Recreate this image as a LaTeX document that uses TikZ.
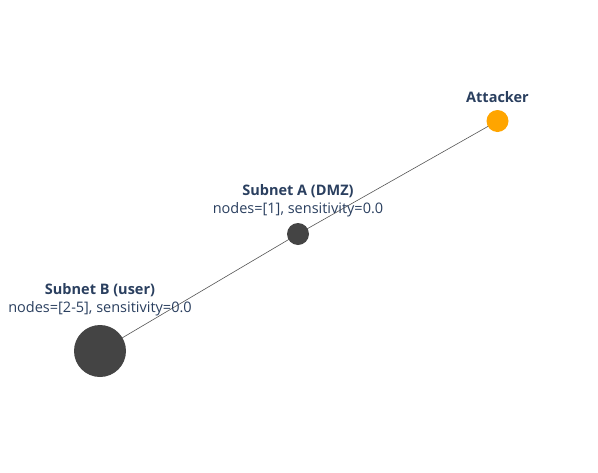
\documentclass[tikz,border=0pt]{standalone}
\usepackage{fontspec}
\setmainfont{Open Sans}
\usepackage{xcolor}
\usetikzlibrary{positioning,backgrounds}
\definecolor{labelblue}{HTML}{2A3F5F}
\definecolor{subnetgrey}{HTML}{444444}
\definecolor{attackerorange}{HTML}{FFA500}
\definecolor{linkgrey}{HTML}{555555}

\begin{document}
\begin{tikzpicture}[x=1pt,y=-1pt]
			\tikzstyle{every node}=[font=\fontsize{14.5}{17}\selectfont, text=labelblue]
			\tikzstyle{host}=[circle, inner sep=0pt, fill=subnetgrey]
			\tikzstyle{link}=[line width=0.6pt, linkgrey]
			\useasboundingbox (0,0) rectangle (598,472);
			\node [host, fill=attackerorange, minimum size=22pt] (att) at (497.5,121) {};
			\node [host, minimum size=22pt] (subA) at (298,234) {};
			\node [host, minimum size=52pt] (subB) at (100,351) {};
			\node [font=\fontsize{14.5}{17}\selectfont\bfseries] (attlab) at (497.5,97) {Attacker};
			\node [font=\fontsize{14.5}{17}\selectfont\bfseries] (subAlab) at (298,191) {Subnet A (DMZ)};
			\node (subAinfo) at (298,210) {nodes=[1], sensitivity=0.0};
			\node [font=\fontsize{14.5}{17}\selectfont\bfseries] (subBlab) at (100,290) {Subnet B (user)};
			\node (subBinfo) at (100,309) {nodes=[2-5], sensitivity=0.0};
			\begin{scope}[on background layer]
			\draw [link] (att.center) -- (subA.center) -- (subB.center);
			\end{scope}
		\end{tikzpicture}
\end{document}
